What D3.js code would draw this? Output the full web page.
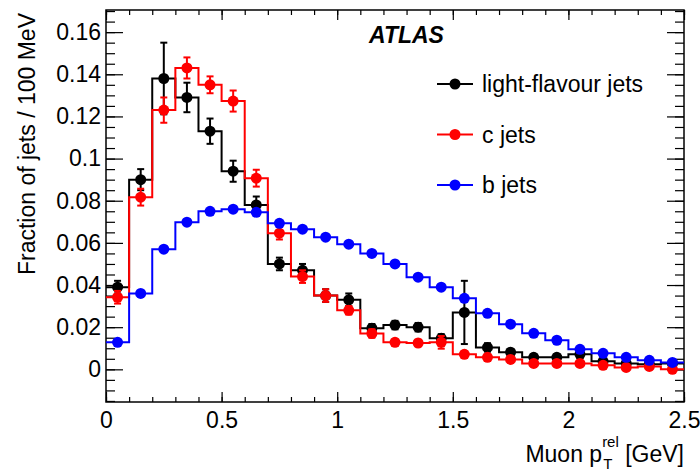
<!DOCTYPE html>
<html>
<head>
<meta charset="utf-8">
<script src="https://cdn.jsdelivr.net/npm/d3@7"></script>
<style>
  body { margin: 0; background: #fff; }
  text { font-family: "Liberation Sans", Arial, Helvetica, sans-serif; }
</style>
</head>
<body>
<div id="container"></div>
<script>
// bin lower edges (GeV), bins are 0.1 wide
var binLow = [0, 0.1, 0.2, 0.3, 0.4, 0.5, 0.6, 0.7, 0.8, 0.9, 1.0, 1.1, 1.2,
              1.3, 1.4, 1.5, 1.6, 1.7, 1.8, 1.9, 2.0, 2.1, 2.2, 2.3, 2.4];
var binWidth = 0.1;

var lightVals = [0.039, 0.090, 0.138, 0.129, 0.113, 0.094, 0.078, 0.050, 0.047, 0.035,
                 0.033, 0.0195, 0.021, 0.020, 0.0147, 0.027, 0.0104, 0.0081, 0.0057, 0.0057,
                 0.0071, 0.0038, 0.0028, 0.0024, 0.0028];
var lightErr = [0.003, 0.005, 0.017, 0.007, 0.006, 0.005, 0.004, 0.003, 0.003, 0.003,
                0.003, 0.002, 0.002, 0.002, 0.002, 0.015, 0.002, 0.0015, 0.0015, 0.0015,
                0.0015, 0.001, 0.001, 0.001, 0.001];
var charmVals = [0.0342, 0.0817, 0.123, 0.143, 0.135, 0.1273, 0.0907, 0.0646, 0.044, 0.035,
                 0.028, 0.017, 0.0128, 0.0125, 0.0128, 0.0071, 0.0057, 0.0047, 0.0028, 0.0028,
                 0.0028, 0.0019, 0.0009, 0.0014, 0.0];
var charmErr = [0.003, 0.004, 0.006, 0.005, 0.004, 0.005, 0.004, 0.003, 0.003, 0.003,
                0.002, 0.002, 0.0015, 0.0015, 0.003, 0.0015, 0.001, 0.001, 0.001, 0.001,
                0.001, 0.001, 0.001, 0.001, 0.001];
var bottomVals = [0.0128, 0.036, 0.057, 0.0698, 0.075, 0.076, 0.0745, 0.0693, 0.0665, 0.0627,
                  0.0594, 0.055, 0.050, 0.0437, 0.039, 0.0337, 0.0266, 0.0214, 0.0171, 0.0138,
                  0.0095, 0.0076, 0.0057, 0.0043, 0.0033];
var bottomErr = [0.0005, 0.0008, 0.001, 0.001, 0.001, 0.001, 0.001, 0.001, 0.001, 0.001,
                 0.001, 0.001, 0.001, 0.001, 0.001, 0.001, 0.0008, 0.0008, 0.0006, 0.0006,
                 0.0005, 0.0005, 0.0005, 0.0005, 0.0005];

var seriesNames = ["light-flavour jets", "c jets", "b jets"];
var seriesColors = ["#000000", "#ff0000", "#0000ff"];

var xMajorTicks = [0, 0.5, 1, 1.5, 2, 2.5];
var yMajorTicks = [0, 0.02, 0.04, 0.06, 0.08, 0.1, 0.12, 0.14, 0.16];

var fontSize = "23px";

var margin = {top: 10, right: 16, bottom: 70, left: 106},
    width = 700 - margin.left - margin.right,
    height = 472 - margin.top - margin.bottom;

var svg = d3.select("#container").append("svg")
    .attr("width", 700)
    .attr("height", 472)
  .append("g")
    .attr("transform", "translate(" + margin.left + "," + margin.top + ")");

var x = d3.scaleLinear().domain([0, 2.5]).range([0, width]);
var y = d3.scaleLinear().domain([-0.0155, 0.1705]).range([height, 0]);

var xMinor = d3.range(0, 26).map(function(i) { return i / 10; });
var yMinor = d3.range(-3, 35).map(function(i) { return i * 0.005; });

function styleAxis(g) {
  g.select(".domain").remove();
  g.selectAll(".tick line").attr("stroke", "#000").attr("stroke-width", 1.2);
  g.selectAll(".tick text").attr("fill", "#000").style("font-size", fontSize)
    .style("font-family", '"Liberation Sans", Arial, sans-serif');
}

// bottom axis
svg.append("g").attr("transform", "translate(0," + height + ")")
    .call(d3.axisBottom(x).tickValues(xMinor).tickSize(-5).tickFormat(""))
    .call(styleAxis);
svg.append("g").attr("transform", "translate(0," + height + ")")
    .call(d3.axisBottom(x).tickValues(xMajorTicks).tickSize(-10).tickPadding(10)
      .tickFormat(function(d) { return String(d); }))
    .call(styleAxis);
// top axis
svg.append("g")
    .call(d3.axisTop(x).tickValues(xMinor).tickSize(-5).tickFormat(""))
    .call(styleAxis);
svg.append("g")
    .call(d3.axisTop(x).tickValues(xMajorTicks).tickSize(-10).tickFormat(""))
    .call(styleAxis);
// left axis
svg.append("g")
    .call(d3.axisLeft(y).tickValues(yMinor).tickSize(-9).tickFormat(""))
    .call(styleAxis);
svg.append("g")
    .call(d3.axisLeft(y).tickValues(yMajorTicks).tickSize(-17).tickPadding(5)
      .tickFormat(function(d) { return String(+d.toFixed(2)); }))
    .call(styleAxis);
// right axis
svg.append("g").attr("transform", "translate(" + width + ",0)")
    .call(d3.axisRight(y).tickValues(yMinor).tickSize(-9).tickFormat(""))
    .call(styleAxis);
svg.append("g").attr("transform", "translate(" + width + ",0)")
    .call(d3.axisRight(y).tickValues(yMajorTicks).tickSize(-17).tickFormat(""))
    .call(styleAxis);

// frame
svg.append("rect")
    .attr("width", width).attr("height", height)
    .attr("fill", "none").attr("stroke", "#000").attr("stroke-width", 1.5);

var series = [
  {vals: lightVals, err: lightErr},
  {vals: charmVals, err: charmErr},
  {vals: bottomVals, err: bottomErr}
];

var stepLine = d3.line()
    .x(function(d) { return x(d[0]); })
    .y(function(d) { return y(d[1]); })
    .curve(d3.curveStepAfter);

series.forEach(function(s, k) {
  var color = seriesColors[k];
  var pts = binLow.map(function(b, i) { return [b, s.vals[i]]; });
  pts.push([binLow[binLow.length - 1] + binWidth, s.vals[s.vals.length - 1]]);

  var g = svg.append("g");
  g.append("path")
      .attr("d", stepLine(pts))
      .attr("fill", "none")
      .attr("stroke", color)
      .attr("stroke-width", 2);

  binLow.forEach(function(b, i) {
    var cx = x(b + binWidth / 2);
    var lo = y(s.vals[i] - s.err[i]), hi = y(s.vals[i] + s.err[i]);
    g.append("line").attr("x1", cx).attr("x2", cx).attr("y1", lo).attr("y2", hi)
        .attr("stroke", color).attr("stroke-width", 2);
    [lo, hi].forEach(function(yy) {
      g.append("line").attr("x1", cx - 3.5).attr("x2", cx + 3.5).attr("y1", yy).attr("y2", yy)
          .attr("stroke", color).attr("stroke-width", 2);
    });
  });

  g.selectAll("circle")
      .data(s.vals)
    .enter().append("circle")
      .attr("cx", function(d, i) { return x(binLow[i] + binWidth / 2); })
      .attr("cy", function(d) { return y(d); })
      .attr("r", 5.5)
      .attr("fill", color);
});

// ATLAS label
svg.append("text")
    .attr("x", 369 - margin.left)
    .attr("y", 43 - margin.top)
    .style("font-size", fontSize)
    .style("font-weight", "bold")
    .style("font-style", "italic")
    .text("ATLAS");

// legend
var legend = svg.selectAll(".legend")
    .data(seriesNames)
  .enter().append("g")
    .attr("class", "legend")
    .attr("transform", function(d, i) {
      return "translate(" + (437 - margin.left) + "," + (84 + i * 50.5 - margin.top) + ")";
    });
legend.append("line")
    .attr("x1", 0).attr("x2", 36)
    .attr("stroke", function(d, i) { return seriesColors[i]; })
    .attr("stroke-width", 2);
legend.append("circle")
    .attr("cx", 18).attr("r", 5.5)
    .attr("fill", function(d, i) { return seriesColors[i]; });
legend.append("text")
    .attr("x", 45).attr("y", 8)
    .style("font-size", fontSize)
    .text(function(d) { return d; });

// y title
svg.append("text")
    .attr("transform", "rotate(-90)")
    .attr("x", -(13 - margin.top))
    .attr("y", 35 - margin.left)
    .style("text-anchor", "end")
    .style("font-size", fontSize)
    .text("Fraction of jets / 100 MeV");

// x title: Muon p_T^rel [GeV]
var xt = svg.append("g").attr("transform", "translate(0," + (462 - margin.top) + ")");
var tail = xt.append("text").attr("x", width).style("text-anchor", "end")
    .style("font-size", fontSize).text("\u00a0[GeV]");
var tailStart = width - tail.node().getComputedTextLength();
var sup = xt.append("text").attr("x", tailStart).attr("y", -15).style("text-anchor", "end")
    .style("font-size", "15px").text("rel");
var supStart = tailStart - sup.node().getComputedTextLength();
xt.append("text").attr("x", supStart + 1).attr("y", 7)
    .style("font-size", "15px").text("T");
xt.append("text").attr("x", supStart).style("text-anchor", "end")
    .style("font-size", fontSize).text("Muon p");
</script>
</body>
</html>
